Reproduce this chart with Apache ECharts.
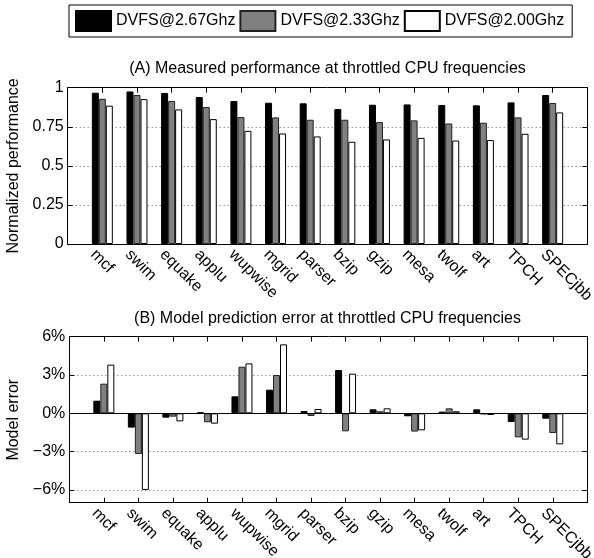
<!DOCTYPE html>
<html><head><meta charset="utf-8">
<script src="https://cdn.jsdelivr.net/npm/echarts@6/dist/echarts.min.js"></script>
<style>html,body{margin:0;padding:0;background:#fff}#c{width:594px;height:558px}</style>
</head><body><div id="c"></div>
<script>
const categories = ['mcf','swim','equake','applu','wupwise','mgrid','parser','bzip','gzip','mesa','twolf','art','TPCH','SPECjbb'];
const seriesNames = ['DVFS@2.67Ghz','DVFS@2.33Ghz','DVFS@2.00Ghz'];
const perf267 = [0.968,0.976,0.966,0.940,0.915,0.904,0.900,0.863,0.891,0.893,0.889,0.887,0.906,0.953];
const perf233 = [0.929,0.953,0.915,0.876,0.812,0.810,0.795,0.795,0.780,0.791,0.771,0.776,0.810,0.902];
const perf200 = [0.885,0.927,0.861,0.799,0.724,0.707,0.688,0.654,0.669,0.679,0.662,0.665,0.705,0.842];
const err267 = [0.99,-1.12,-0.34,0.08,1.33,1.85,0.18,3.39,0.31,-0.23,0.13,0.31,-0.68,-0.42];
const err233 = [2.32,-3.18,-0.26,-0.70,3.65,3.00,-0.21,-1.41,0.16,-1.43,0.39,-0.08,-1.88,-1.54];
const err200 = [3.81,-6.00,-0.63,-0.81,3.91,5.40,0.34,3.10,0.39,-1.33,0.16,-0.13,-2.06,-2.43];
const perfTicks = [0,0.25,0.5,0.75,1];
const errTicks = [-6,-3,0,3,6];
const titleA = '(A) Measured performance at throttled CPU frequencies';
const titleB = '(B) Model prediction error at throttled CPU frequencies';

const FONT = 'Liberation Sans, Arial, Helvetica, sans-serif';
const axisCats = [''].concat(categories, ['']);
const pad = a => [null].concat(a, [null]);
const barStyles = [
  {color:'#000000', borderColor:'#000000', borderWidth:1},
  {color:'#808080', borderColor:'#222222', borderWidth:1},
  {color:'#ffffff', borderColor:'#000000', borderWidth:1}
];
const gridLine = {show:true, lineStyle:{type:[1,3], color:'#666', width:1}};
const black = {color:'#000', width:1};

function xAxes(gi){
  return [
    {gridIndex:gi, type:'category', data:axisCats, boundaryGap:false,
     axisLine:{show:true, onZero:false, lineStyle:black},
     axisTick:{show:true, inside:true, length:5, interval:0, lineStyle:black},
     axisLabel:{show:true, interval:0, rotate:-45, fontSize:16, color:'#000', margin:-1,
       verticalAlign:'top', lineHeight:26, fontFamily:FONT},
     splitLine:{show:false}},
    {gridIndex:gi, type:'category', data:axisCats, boundaryGap:false, position:'top',
     axisLine:{show:true, onZero:false, lineStyle:black},
     axisTick:{show:true, inside:true, length:5, interval:0, lineStyle:black},
     axisLabel:{show:false}, splitLine:{show:false}}
  ];
}

const chart = echarts.init(document.getElementById('c'), null, {renderer:'canvas'});
const series = [];
const perf = [perf267, perf233, perf200];
const err = [err267, err233, err200];
for (let i = 0; i < 3; i++) {
  series.push({name:seriesNames[i], type:'bar', xAxisIndex:0, yAxisIndex:0,
    data:pad(perf[i]), barWidth:7, barGap:'0%', itemStyle:barStyles[i], silent:true, animation:false});
}
for (let i = 0; i < 3; i++) {
  const s = {name:seriesNames[i], type:'bar', xAxisIndex:2, yAxisIndex:2,
    data:pad(err[i]), barWidth:7, barGap:'0%', itemStyle:barStyles[i], silent:true, animation:false};
  if (i === 0) {
    s.markLine = {silent:true, symbol:'none', animation:false, label:{show:false},
      lineStyle:{color:'#000', type:'solid', width:1}, data:[{yAxis:0}]};
  }
  series.push(s);
}

chart.setOption({
  animation:false,
  textStyle:{fontFamily:FONT, color:'#000'},
  title:[
    {text:titleA, left:327.5, top:61, textAlign:'center', padding:0,
     textStyle:{fontSize:16, fontWeight:'normal', color:'#000', fontFamily:FONT}},
    {text:titleB, left:327.5, top:311, textAlign:'center', padding:0,
     textStyle:{fontSize:16, fontWeight:'normal', color:'#000', fontFamily:FONT}}
  ],
  legend:{data:seriesNames, left:69, top:5, padding:[5,8,5,6], itemWidth:35, itemHeight:20, itemGap:4,
    icon:'rect', borderColor:'#000', borderWidth:1, selectedMode:false,
    textStyle:{fontSize:16, color:'#000', fontFamily:FONT}},
  grid:[
    {left:67.7, right:6.7, top:87.7, height:156.3, containLabel:false, outerBoundsMode:'none'},
    {left:69.3, right:6.7, top:336.7, height:166, containLabel:false, outerBoundsMode:'none'}
  ],
  xAxis: xAxes(0).concat(xAxes(1)),
  yAxis:[
    {gridIndex:0, type:'value', min:0, max:1, interval:0.25,
     axisLine:{show:true, lineStyle:black},
     axisTick:{show:true, inside:true, length:5, lineStyle:black},
     axisLabel:{fontSize:16, color:'#000', margin:4, fontFamily:FONT},
     splitLine:gridLine,
     name:'Normalized performance', nameLocation:'middle', nameGap:34,
     nameTextStyle:{fontSize:16, color:'#000', fontFamily:FONT}},
    {gridIndex:0, type:'value', min:0, max:1, interval:0.25, position:'right',
     axisLine:{show:true, lineStyle:black},
     axisTick:{show:true, inside:true, length:5, lineStyle:black},
     axisLabel:{show:false}, splitLine:{show:false}},
    {gridIndex:1, type:'value', min:-7, max:6,
     axisLine:{show:true, onZero:false, lineStyle:black},
     axisTick:{show:true, inside:true, length:5, lineStyle:black, customValues:errTicks},
     axisLabel:{fontSize:16, color:'#000', margin:4, fontFamily:FONT, customValues:errTicks,
       formatter:v => (v < 0 ? '\u2212' + Math.abs(v) : String(v)) + '%'},
     splitLine:gridLine,
     name:'Model error', nameLocation:'middle', nameGap:36,
     nameTextStyle:{fontSize:16, color:'#000', fontFamily:FONT}},
    {gridIndex:1, type:'value', min:-7, max:6, position:'right',
     axisLine:{show:true, onZero:false, lineStyle:black},
     axisTick:{show:true, inside:true, length:5, lineStyle:black, customValues:errTicks},
     axisLabel:{show:false}, splitLine:{show:false}}
  ],
  series:series
});
</script></body></html>
